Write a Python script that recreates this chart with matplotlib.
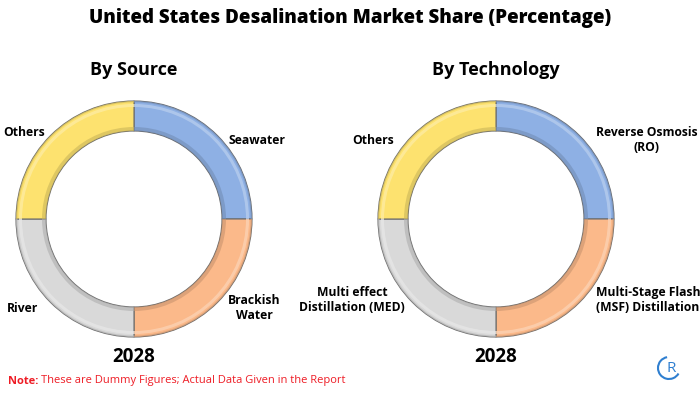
import matplotlib.pyplot as plt
import matplotlib.patches as patches
from matplotlib.colors import to_rgb

plt.rcParams['font.family'] = ['Open Sans', 'DejaVu Sans']

# data (dummy equal shares, clockwise from 12 o'clock)
source_labels = ['Seawater', 'Brackish\nWater', 'River', 'Others']
source_values = [25, 25, 25, 25]
tech_labels = ['Reverse Osmosis\n(RO)', 'Multi-Stage Flash\n(MSF) Distillation',
               'Multi effect\nDistillation (MED)', 'Others']
tech_values = [25, 25, 25, 25]
seg_colors = ['#8eb0e4', '#fbb98a', '#d9d9d9', '#fde26f']
year = '2028'

W, H = 700, 393
fig = plt.figure(figsize=(7, 3.93), dpi=100)
ax = fig.add_axes([0, 0, 1, 1])


def shade(c, f):
    r, g, b = to_rgb(c)
    if f > 0:
        return (r + (1 - r) * f, g + (1 - g) * f, b + (1 - b) * f)
    return (r * (1 + f), g * (1 + f), b * (1 + f))


def donut(cx, cy, values):
    R, w = 118, 30
    cy = H - cy
    # base ring
    ax.pie(values, colors=seg_colors, startangle=90, counterclock=False,
           center=(cx, cy), radius=R, frame=True,
           wedgeprops=dict(width=w, edgecolor='#6b6b6b', linewidth=0.8))
    # bevel: light band near outer edge, darker band near inner edge
    ax.pie(values, colors=[shade(c, 0.35) for c in seg_colors], startangle=90,
           counterclock=False, center=(cx, cy), radius=R - 3, frame=True,
           wedgeprops=dict(width=3, linewidth=0, alpha=0.8))
    ax.pie(values, colors=[shade(c, -0.2) for c in seg_colors], startangle=90,
           counterclock=False, center=(cx, cy), radius=R - w + 4, frame=True,
           wedgeprops=dict(width=4, linewidth=0, alpha=0.6))
    ax.pie(values, colors=[shade(c, -0.15) for c in seg_colors], startangle=90,
           counterclock=False, center=(cx, cy), radius=R, frame=True,
           wedgeprops=dict(width=1.5, linewidth=0, alpha=0.7))


donut(134, 219, source_values)
donut(496, 219, tech_values)

ax.set_xlim(0, W)
ax.set_ylim(0, H)
ax.set_aspect('equal')
ax.axis('off')

fs = 8.7
lab = dict(fontsize=fs, fontweight='bold', color='black', va='center', ha='center',
           linespacing=1.25)
ax.text(350, H - 18, 'United States Desalination Market Share (Percentage)',
        fontsize=13.5, fontweight='heavy', ha='center', va='center')
ax.text(134, H - 70, 'By Source', fontsize=13, fontweight='bold', ha='center', va='center')
ax.text(496, H - 70, 'By Technology', fontsize=13, fontweight='bold', ha='center', va='center')
ax.text(134, H - 357, year, fontsize=13.5, fontweight='bold', ha='center', va='center')
ax.text(496, H - 357, year, fontsize=13.5, fontweight='bold', ha='center', va='center')

# segment labels
ax.text(257, H - 140, source_labels[0], **lab)
ax.text(254, H - 308, source_labels[1], **lab)
ax.text(23, H - 308, source_labels[2], **lab)
ax.text(24, H - 133, source_labels[3], **lab)

ax.text(647, H - 140, tech_labels[0], **lab)
ax.text(648, H - 300, tech_labels[1], **lab)
ax.text(352, H - 300, tech_labels[2], **lab)
ax.text(373, H - 140, tech_labels[3], **lab)

# note
note = ax.text(8, H - 381, 'Note:', fontsize=8, fontweight='bold', color='#ee1c25',
               ha='left', va='center')
ax.annotate('These are Dummy Figures; Actual Data Given in the Report',
            xy=(1, 0.5), xycoords=note, xytext=(2, 0), textcoords='offset points',
            fontsize=8, color='#ee1c25', ha='left', va='center')

# small logo
ax.add_patch(patches.Arc((669, H - 368), 22, 22, theta1=180, theta2=330,
                         color='#2f7fd0', lw=1.5))
ax.add_patch(patches.Arc((669, H - 368), 22, 22, theta1=100, theta2=180,
                         color='#2f7fd0', lw=1.5))
ax.text(671, H - 368, 'R', fontsize=11, color='#2f7fd0', ha='center', va='center')

fig.savefig('out.png', dpi=100)
